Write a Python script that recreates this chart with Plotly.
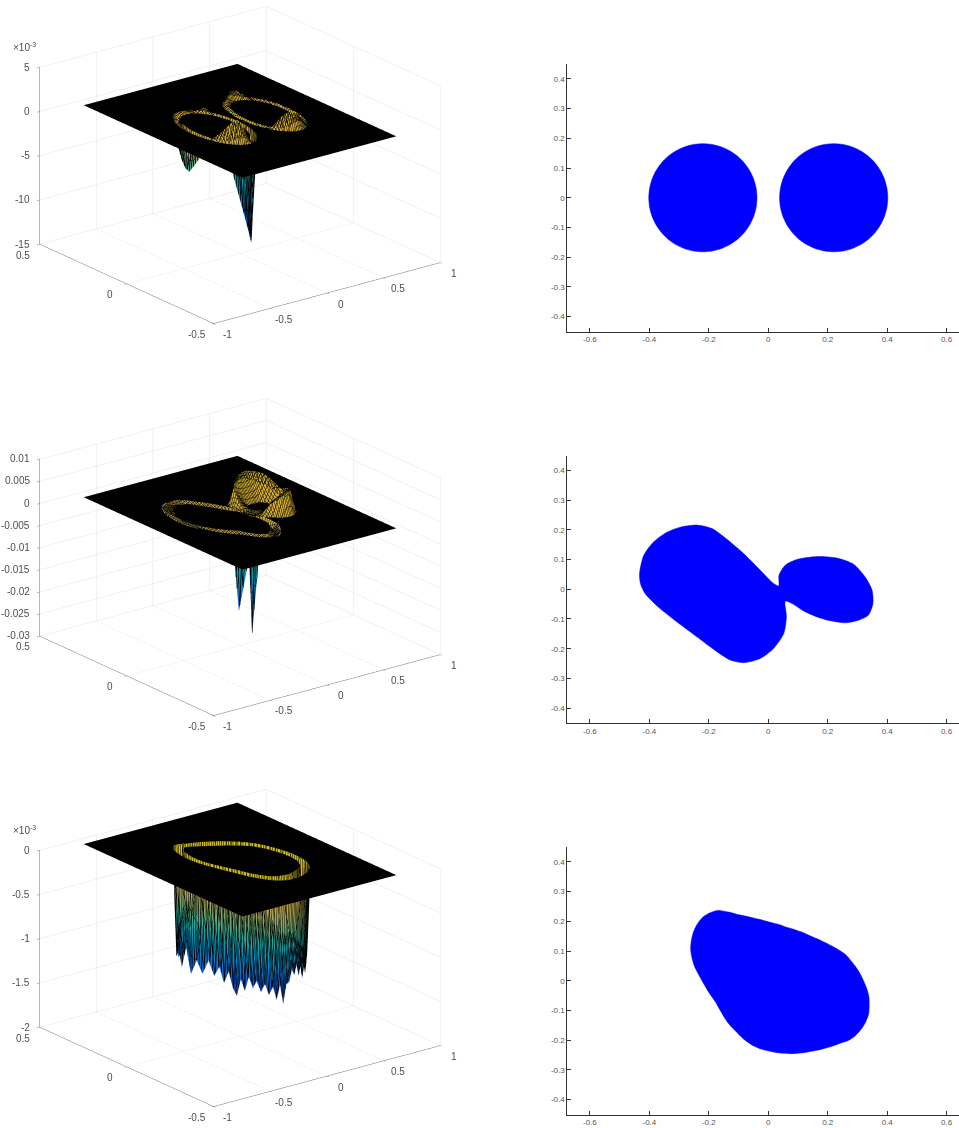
import numpy as np
import plotly.graph_objects as go

W, H = 959, 1128
FONT = "Liberation Sans"
# parula, slightly dimmed: the reference's dense black mesh darkens every face
PARULA = ["#352a87","#0f55d0","#1478c8","#0594ba","#2aa595","#79a96a","#b9a34e","#dcae2c","#d0bf1a"]
COLORSCALE = [[i/8, c] for i, c in enumerate(PARULA)]

X_TICKS_3D = [-1, -0.5, 0, 0.5, 1]
X_LABELS_3D = ["-1", "-0.5", "0", "0.5", "1"]
Y_TICKS_3D = [-0.5, 0, 0.5]
Y_LABELS_3D = ["-0.5", "0", "0.5"]

P1_Z_TICKS = [-15e-3, -10e-3, -5e-3, 0, 5e-3]
P1_Z_LABELS = ["-15", "-10", "-5", "0", "5"]
P2_Z_TICKS = [-0.03, -0.025, -0.02, -0.015, -0.01, -0.005, 0, 0.005, 0.01]
P2_Z_LABELS = ["-0.03", "-0.025", "-0.02", "-0.015", "-0.01", "-0.005", "0", "0.005", "0.01"]
P3_Z_TICKS = [-2e-3, -1.5e-3, -1e-3, -0.5e-3, 0]
P3_Z_LABELS = ["-2", "-1.5", "-1", "-0.5", "0"]

TICKS_2D_X = [-0.6, -0.4, -0.2, 0, 0.2, 0.4, 0.6]
LABELS_2D_X = ["-0.6", "-0.4", "-0.2", "0", "0.2", "0.4", "0.6"]
TICKS_2D_Y = [-0.4, -0.3, -0.2, -0.1, 0, 0.1, 0.2, 0.3, 0.4]
LABELS_2D_Y = ["-0.4", "-0.3", "-0.2", "-0.1", "0", "0.1", "0.2", "0.3", "0.4"]

THETA_10 = list(range(0, 360, 10))
P1_RADIUS = 0.182
P1_LEFT_Z = [-7.1,-5,-3,-1.2,.3,.6,.3,0,.2,.3,0,-.5,-1,-2,-3,-3.8,-4.5,-4.7,-3.7,-2.5,-1,.2,.8,1.6,2.3,2.6,1.8,.8,0,-2,-5.8,-8.8,-12.5,-11.6,-10.4,-8.9]
P1_RIGHT_Z = [-1,-.8,-.6,-.4,-.3,-.2,.2,.5,.9,1,1.1,.7,.5,.2,.2,-.3,-.5,-.7,-.8,-.7,-.6,-.3,0,.7,1.5,1.9,1.9,1.8,1.2,.8,.2,-.3,-.6,-1,-1.1,-1]

P2_BIG_THETA = [0,10,20,35,50,70,90,110,130,150,170,190,210,230,250,270,290,310,330,345,352]
P2_BIG_R = [.24,.205,.18,.168,.168,.178,.215,.24,.265,.27,.255,.205,.17,.155,.155,.2,.245,.255,.27,.245,.22]
P2_BIG_Z = [-10,-22.8,-2,-1,-.8,-.6,-.5,-.3,0,.3,.1,-.3,-.5,-.5,-.5,-.5,-.6,-.8,-1.5,-6,-26.7]
P2_SMALL_THETA = list(range(0, 360, 15))
P2_SMALL_R = [.16,.153,.145,.135,.125,.118,.115,.118,.125,.138,.155,.16,.155,.135,.11,.098,.09,.092,.097,.107,.12,.137,.155,.162]
P2_SMALL_Z = [3.2,4.4,5.4,5.7,5.9,6,5.9,5.7,5.4,4.7,3.8,2,0,-.3,.2,1.5,2.8,3.7,4.5,5.1,5.6,5.3,4.7,4]

P2_OUT_X = [-.433,-.419,-.386,-.341,-.296,-.24,-.189,-.139,-.083,-.027,.018,.035,.036,.057,.096,.164,.231,.287,.326,.349,.352,.337,.304,.259,.209,.164,.119,.08,.057,.061,.052,.018,-.027,-.083,-.128,-.173,-.24,-.307,-.374,-.414,-.43,-.433]
P2_OUT_Y = [.053,.114,.159,.192,.209,.216,.204,.168,.12,.064,.019,.011,.047,.081,.1,.11,.105,.084,.041,-.003,-.048,-.087,-.104,-.113,-.106,-.093,-.073,-.048,-.04,-.093,-.149,-.199,-.233,-.247,-.238,-.21,-.16,-.11,-.056,-.015,.019,.053]

THETA_5 = list(range(0, 360, 5))
P3_R = [.291,.28,.269,.258,.249,.236,.224,.213,.204,.197,.191,.187,.185,.183,.182,.182,.183,.187,.191,.196,.203,.213,.224,.239,.256,.282,.309,.322,.329,.329,.325,.318,.309,.296,.282,.266,.252,.241,.232,.224,.218,.216,.215,.216,.217,.218,.219,.222,.226,.229,.233,.235,.237,.239,.242,.245,.249,.253,.258,.263,.27,.278,.288,.298,.313,.322,.327,.329,.328,.321,.314,.303]
P3_Z = [-1.1,-1.25,-1.1,-1.3,-1.15,-1.3,-1.2,-1.35,-1.2,-1.3,-1.15,-1.3,-1.2,-1.3,-1.15,-1.25,-1.1,-1.3,-1.15,-1.25,-1.1,-1.3,-1.15,-1.25,-1.15,-1.2,-1.26,-1.05,-1.22,-1.1,-1.28,-1.02,-1.3,-1.12,-1.25,-1.08,-1.24,-1.12,-1.29,-1.15,-1.32,-1.4,-1.2,-1.32,-1.15,-1.27,-1.18,-1.3,-1.2,-1.32,-1.22,-1.37,-1.2,-1.42,-1.2,-1.18,-1.05,-1.12,-1.0,-1.15,-1.05,-1.2,-1.08,-1.18,-1.0,-1.05,-.95,-1.1,-1.0,-1.15,-1.05,-1.2]

PLANE_X = np.linspace(-0.678, 0.678, 401)
PLANE_Y = np.linspace(-0.456, 0.456, 271)

def ring(cx, cy, theta, r_in, r_mid, r_out, z, cmin, cmax):
    t = np.radians(np.append(theta, theta[0] + 360))
    rows = [np.append(a, a[0]) for a in (r_in, r_mid, r_out)]
    zz = np.append(z, z[0]) * 1e-3
    X = np.array([cx + r*np.cos(t) for r in rows])
    Y = np.array([cy + r*np.sin(t) for r in rows])
    Z = np.array([0*zz, zz, 0*zz])
    line = dict(show=True, color="black", width=1, size=0.012, highlight=False)
    return go.Surface(x=X, y=Y, z=Z, surfacecolor=Z, cmin=cmin, cmax=cmax, colorscale=COLORSCALE,
                      showscale=False, hoverinfo="skip",
                      lighting=dict(ambient=1, diffuse=0, specular=0, fresnel=0, roughness=1),
                      contours=dict(x=dict(start=-0.67, end=0.67, **line),
                                    y=dict(start=-0.45, end=0.45, **line),
                                    z=dict(show=False, highlight=False)))

def plane(holes):
    gx, gy = np.meshgrid(PLANE_X, PLANE_Y)
    Z = np.zeros_like(gx)
    for cx, cy, theta, r_in, r_out in holes:
        rho = np.hypot(gx-cx, gy-cy)
        a = np.degrees(np.arctan2(gy-cy, gx-cx)) % 360
        th = np.append(np.append(theta[-1]-360, theta), theta[0]+360)
        ri = np.interp(a, th, np.concatenate([[r_in[-1]], r_in, [r_in[0]]]))
        ro = np.interp(a, th, np.concatenate([[r_out[-1]], r_out, [r_out[0]]]))
        Z[(rho > ri+0.004) & (rho < ro-0.004)] = np.nan
    return go.Surface(x=PLANE_X, y=PLANE_Y, z=Z, surfacecolor=np.zeros_like(Z), cmin=-1, cmax=1,
                      colorscale=[[0,"#000"],[1,"#000"]], showscale=False, hoverinfo="skip",
                      lighting=dict(ambient=1, diffuse=0, specular=0, fresnel=0))

fig = go.Figure()

def scene_layout(idx, center_y, zticks, zlabels, zrange):
    h = 330
    dom_y = [1-(center_y+h/2)/H, 1-(center_y-h/2)/H]
    el = np.radians(20.5)
    d = 2.0
    k = 1.733
    eye = dict(x=-0.609*np.cos(el)*d, y=-0.793*np.cos(el)*d, z=np.sin(el)*d)
    common = dict(showbackground=False, showspikes=False, showticklabels=False, title=dict(text=""),
                  showgrid=True, gridcolor="#e4e4e4", gridwidth=1, zeroline=False, showline=True,
                  linecolor="#707070", linewidth=1, ticks="outside", ticklen=3, tickcolor="#707070", tickwidth=1)
    ann = []
    f = dict(family=FONT, size=10, color="#4d4d4d")
    for v, l in zip(X_TICKS_3D, X_LABELS_3D):
        ann.append(dict(x=v, y=-0.5, z=zrange[0], text=l, showarrow=False, xshift=14, yshift=-11, font=f))
    for v, l in zip(Y_TICKS_3D, Y_LABELS_3D):
        ann.append(dict(x=-1, y=v, z=zrange[0], text=l, showarrow=False, xshift=-17, yshift=-11, font=f))
    for v, l in zip(zticks, zlabels):
        ann.append(dict(x=-1, y=0.5, z=v, text=l, showarrow=False, xanchor="right", xshift=-8, font=f))
    return dict(domain=dict(x=[0, 480/W], y=dom_y), aspectmode="manual",
                aspectratio=dict(x=k, y=k, z=0.66*k),
                camera=dict(eye=eye, center=dict(x=0, y=0, z=0), up=dict(x=0, y=0, z=1),
                            projection=dict(type="orthographic")),
                xaxis=dict(range=[-1, 1], tickvals=X_TICKS_3D, **common),
                yaxis=dict(range=[-0.5, 0.5], tickvals=Y_TICKS_3D, **common),
                zaxis=dict(range=zrange, tickvals=zticks, **common),
                annotations=ann)

def arr(v): return np.array(v, dtype=float)

# Panel 1
th = arr(THETA_10)
ri, rm, ro = np.full(36, .165), np.full(36, P1_RADIUS), np.full(36, .205)
fig.add_trace(plane([(-.22,0,th,ri,ro),(.22,0,th,ri,ro)]).update(scene="scene"))
fig.add_trace(ring(-.22,0,th,ri,rm,ro,arr(P1_LEFT_Z),-13e-3,3e-3).update(scene="scene"))
fig.add_trace(ring(.22,0,th,ri,rm,ro,arr(P1_RIGHT_Z),-13e-3,3e-3).update(scene="scene"))

# Panel 2
tb, rb, ts, rs = arr(P2_BIG_THETA), arr(P2_BIG_R), arr(P2_SMALL_THETA), arr(P2_SMALL_R)
fig.add_trace(plane([(-.18,-.015,tb,rb-.025,rb+.03),(.19,-.005,ts,rs-.07,rs+.03)]).update(scene="scene2"))
fig.add_trace(ring(-.18,-.015,tb,rb-.025,rb,rb+.03,arr(P2_BIG_Z),-27e-3,6.5e-3).update(scene="scene2"))
fig.add_trace(ring(.19,-.005,ts,rs-.07,rs,rs+.03,arr(P2_SMALL_Z),-27e-3,6.5e-3).update(scene="scene2"))

# Panel 3
t3, r3 = arr(THETA_5), arr(P3_R)
fig.add_trace(plane([(.0293,0,t3,r3-.03,r3+.025)]).update(scene="scene3"))
fig.add_trace(ring(.0293,0,t3,r3-.03,r3*1.02,r3+.025,arr(P3_Z),-1.42e-3,0).update(scene="scene3"))

# 2D panels
blue = dict(mode="lines", fill="toself", fillcolor="#0000ff", line=dict(color="#0000ff", width=0.5, shape="spline", smoothing=0.7), hoverinfo="skip", showlegend=False)
t = np.radians(np.append(th, 360))
for cx in (-.22, .22):
    fig.add_trace(go.Scatter(x=cx+P1_RADIUS*np.cos(t), y=P1_RADIUS*np.sin(t), xaxis="x", yaxis="y", **blue))
fig.add_trace(go.Scatter(x=P2_OUT_X, y=P2_OUT_Y, xaxis="x2", yaxis="y2", **blue))
t = np.radians(np.append(t3, 360))
fig.add_trace(go.Scatter(x=.0293+np.append(r3,r3[0])*np.cos(t), y=np.append(r3,r3[0])*np.sin(t), xaxis="x3", yaxis="y3", **blue))

layout = dict(width=W, height=H, margin=dict(l=0,r=0,t=0,b=0), paper_bgcolor="white", plot_bgcolor="white", showlegend=False)
layout["scene"] = scene_layout(1, 165, P1_Z_TICKS, P1_Z_LABELS, [-15e-3, 5e-3])
layout["scene2"] = scene_layout(2, 556.5, P2_Z_TICKS, P2_Z_LABELS, [-0.03, 0.01])
layout["scene3"] = scene_layout(3, 948, P3_Z_TICKS, P3_Z_LABELS, [-2e-3, 0])

font2 = dict(family=FONT, size=8, color="#555555")
for i, (top, bottom) in enumerate([(64, 331.5), (455.5, 723), (847, 1114.5)]):
    sfx = "" if i == 0 else str(i+1)
    layout["xaxis"+sfx] = dict(domain=[567.3/W, 1], range=[-0.676, 0.6415], tickvals=TICKS_2D_X, ticktext=LABELS_2D_X,
        ticks="inside", ticklen=4, tickcolor="#333", tickwidth=1, showline=True, linecolor="#333", linewidth=1,
        showgrid=False, zeroline=False, tickfont=font2, anchor="y"+sfx)
    layout["yaxis"+sfx] = dict(domain=[1-bottom/H, 1-top/H], range=[-0.45, 0.45], tickvals=TICKS_2D_Y, ticktext=LABELS_2D_Y,
        ticks="inside", ticklen=4, tickcolor="#333", tickwidth=1, showline=True, linecolor="#333", linewidth=1,
        showgrid=False, zeroline=False, tickfont=font2, anchor="x"+sfx)

f3 = dict(family=FONT, size=10, color="#4d4d4d")
layout["annotations"] = [dict(xref="paper", yref="paper", x=11/W, y=1-py/H, xanchor="left", yanchor="middle",
                              text="×10<sup>-3</sup>", showarrow=False, font=f3) for py in (47, 830)]
fig.update_layout(**layout)
fig.write_html("out.html", config=dict(displayModeBar=False), post_script="document.body.style.margin='0';")
